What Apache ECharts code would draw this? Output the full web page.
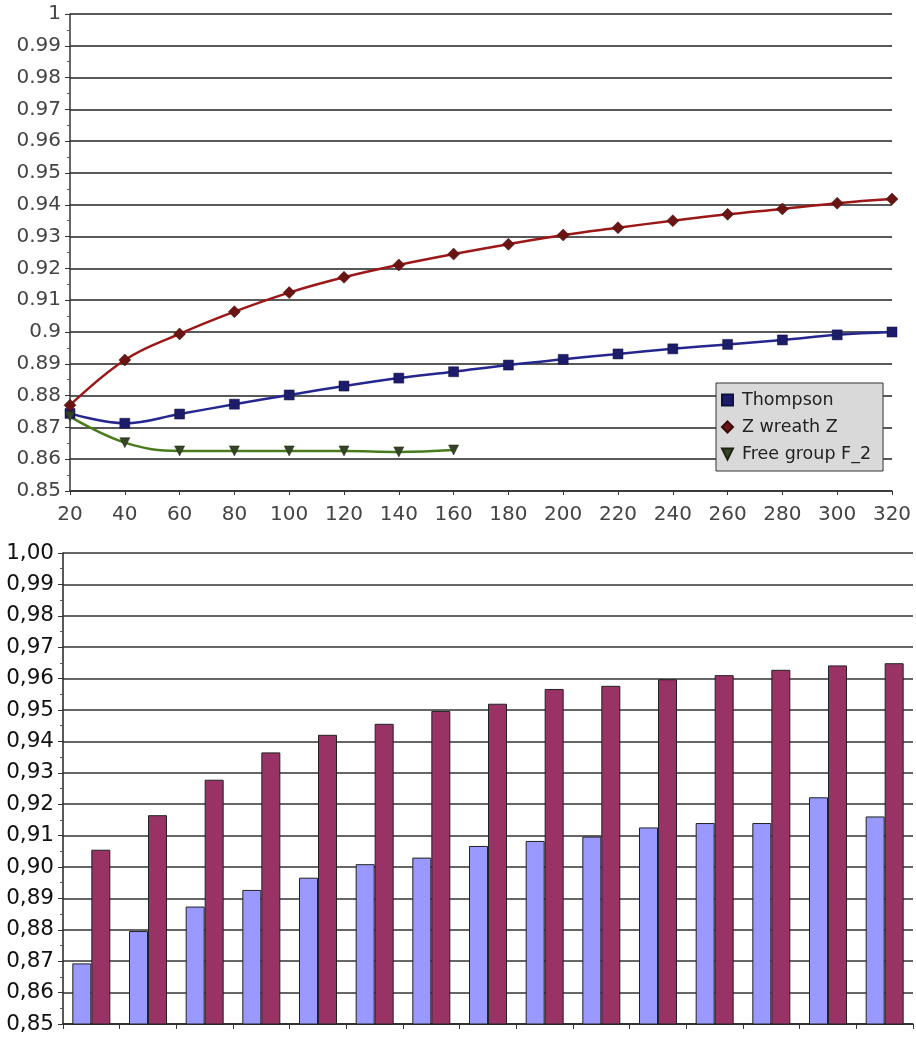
<!DOCTYPE html>
<html>
<head>
<meta charset="utf-8">
<script src="https://cdn.jsdelivr.net/npm/echarts@6/dist/echarts.min.js"></script>
<style>
  html, body { margin: 0; padding: 0; background: #fff; }
  #chart { width: 916px; height: 1041px; }
</style>
</head>
<body>
<div id="chart"></div>
<script>
// top chart: group size vs. ratio
var sizes = [20, 40, 60, 80, 100, 120, 140, 160, 180, 200, 220, 240, 260, 280, 300, 320];
var thompson = [0.8744, 0.8713, 0.8742, 0.8773, 0.8802, 0.8830, 0.8855, 0.8875, 0.8896, 0.8914, 0.8931, 0.8947, 0.8961, 0.8975, 0.8991, 0.9000];
var wreath = [0.8770, 0.8912, 0.8994, 0.9064, 0.9124, 0.9172, 0.9211, 0.9245, 0.9276, 0.9305, 0.9328, 0.9350, 0.9370, 0.9387, 0.9405, 0.9418];
var freeGroup = [0.8734, 0.8652, 0.8626, 0.8626, 0.8626, 0.8626, 0.8623, 0.8629];

// bottom chart: two bar series, no category labels
var barCats = ["1", "2", "3", "4", "5", "6", "7", "8", "9", "10", "11", "12", "13", "14", "15"];
var barBlue = [0.8693, 0.8796, 0.8874, 0.8927, 0.8966, 0.9009, 0.9030, 0.9067, 0.9083, 0.9097, 0.9126, 0.9140, 0.9140, 0.9222, 0.9161];
var barRed = [0.9055, 0.9165, 0.9278, 0.9365, 0.9421, 0.9456, 0.9497, 0.9520, 0.9567, 0.9577, 0.9598, 0.9611, 0.9628, 0.9642, 0.9649];

function pairs(ys) {
  return ys.map(function (y, i) { return [sizes[i], y]; });
}

var triDown = "path://M0,0 L10,0 L5,10 Z";
var font = "DejaVu Sans, sans-serif";

var chart = echarts.init(document.getElementById("chart"));

var option = {
  animation: false,
  textStyle: { fontFamily: font },
  grid: [
    { left: 70, top: 14, width: 822, height: 477 },
    { left: 63, top: 553, width: 850, height: 471 }
  ],
  legend: {
    data: [
      { name: "Thompson", icon: "rect" },
      { name: "Z wreath Z", icon: "diamond" },
      { name: "Free group F_2", icon: triDown }
    ],
    orient: "vertical",
    left: 716,
    top: 383,
    itemWidth: 11,
    itemHeight: 11,
    itemGap: 9,
    padding: [8, 12, 8, 5],
    backgroundColor: "#d9d9d9",
    borderColor: "#333",
    borderWidth: 1,
    textStyle: { fontFamily: font, fontSize: 17.5, color: "#222", padding: [0, 0, 0, 4] }
  },
  xAxis: [
    {
      gridIndex: 0,
      type: "value",
      min: 20,
      max: 320,
      interval: 20,
      axisLine: { lineStyle: { color: "#333", width: 1.5 } },
      axisTick: { show: true, length: 4, lineStyle: { color: "#333" } },
      splitLine: { show: false },
      axisLabel: { fontSize: 20, color: "#444", margin: 14 }
    },
    {
      gridIndex: 1,
      type: "category",
      data: barCats,
      axisLine: { lineStyle: { color: "#222", width: 1.5 } },
      axisTick: { show: true, length: 5, lineStyle: { color: "#333" } },
      axisLabel: { show: false }
    }
  ],
  yAxis: [
    {
      gridIndex: 0,
      type: "value",
      min: 0.85,
      max: 1,
      interval: 0.01,
      axisLine: { show: true, lineStyle: { color: "#333", width: 1.5 } },
      axisTick: { show: true, length: 5, lineStyle: { color: "#333" } },
      minorTick: { show: true, splitNumber: 2, length: 3, lineStyle: { color: "#555" } },
      splitLine: { lineStyle: { color: "#222", width: 1.5 } },
      axisLabel: {
        fontSize: 20,
        color: "#444",
        margin: 9,
        formatter: function (v) { return String(parseFloat(v.toFixed(2))); }
      }
    },
    {
      gridIndex: 1,
      type: "value",
      min: 0.85,
      max: 1,
      interval: 0.01,
      axisLine: { show: true, lineStyle: { color: "#222", width: 1.5 } },
      axisTick: { show: true, length: 5, lineStyle: { color: "#333" } },
      minorTick: { show: true, splitNumber: 2, length: 3, lineStyle: { color: "#555" } },
      splitLine: { lineStyle: { color: "#333", width: 1.5 } },
      axisLabel: {
        fontSize: 21.5,
        color: "#111",
        margin: 9,
        formatter: function (v) { return v.toFixed(2).replace(".", ","); }
      }
    }
  ],
  series: [
    {
      name: "Thompson",
      type: "line",
      xAxisIndex: 0,
      yAxisIndex: 0,
      smooth: 0.4,
      data: pairs(thompson),
      symbol: "rect",
      symbolSize: 10,
      lineStyle: { color: "#26268f", width: 2.5 },
      itemStyle: { color: "#1c1c6b", borderColor: "#111140", borderWidth: 0.5 }
    },
    {
      name: "Z wreath Z",
      type: "line",
      xAxisIndex: 0,
      yAxisIndex: 0,
      smooth: 0.4,
      data: pairs(wreath),
      symbol: "diamond",
      symbolSize: 12,
      lineStyle: { color: "#9c1717", width: 2.5 },
      itemStyle: { color: "#6b1414", borderColor: "#3a0a0a", borderWidth: 0.5 }
    },
    {
      name: "Free group F_2",
      type: "line",
      xAxisIndex: 0,
      yAxisIndex: 0,
      smooth: 0.4,
      data: pairs(freeGroup),
      symbol: triDown,
      symbolSize: 10,
      lineStyle: { color: "#4a7a1e", width: 2.5 },
      itemStyle: { color: "#354427", borderColor: "#1e2612", borderWidth: 0.5 }
    },
    {
      name: "blue",
      type: "bar",
      xAxisIndex: 1,
      yAxisIndex: 1,
      data: barBlue,
      barWidth: 19,
      barGap: "0%",
      itemStyle: { color: "#9999ff", borderColor: "#222", borderWidth: 1 }
    },
    {
      name: "red",
      type: "bar",
      xAxisIndex: 1,
      yAxisIndex: 1,
      data: barRed,
      barWidth: 19,
      barGap: "0%",
      itemStyle: { color: "#993366", borderColor: "#222", borderWidth: 1 }
    }
  ]
};

chart.setOption(option);
</script>
</body>
</html>
